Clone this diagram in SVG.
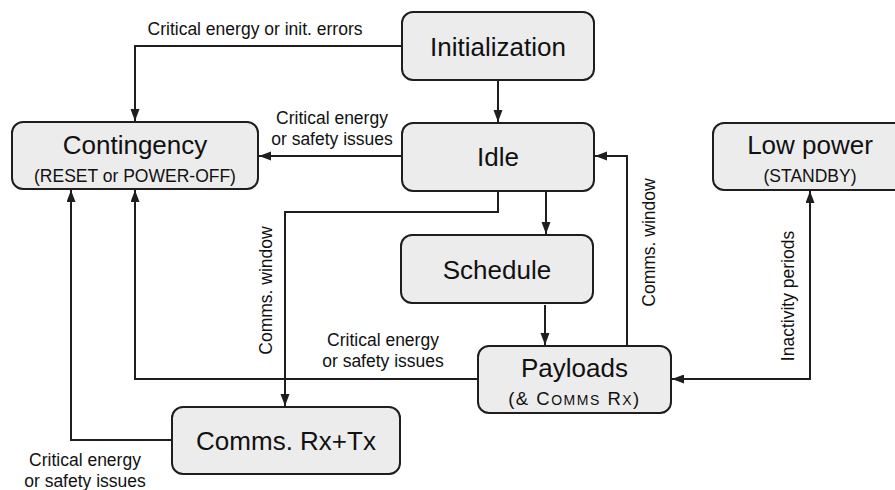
<svg xmlns="http://www.w3.org/2000/svg" width="895" height="490" viewBox="0 0 895 490">
  <style>
    .box { fill: #ececec; stroke: #1e1e1e; stroke-width: 2; }
    .title { font-family: "Liberation Sans", Arial, sans-serif; font-size: 26px; fill: #111; text-anchor: middle; }
    .sub { font-family: "Liberation Sans", Arial, sans-serif; font-size: 17.5px; fill: #111; text-anchor: middle; }
    .sc { font-size: 14px; }
    .lbl { font-family: "Liberation Sans", Arial, sans-serif; font-size: 17.5px; fill: #111; text-anchor: middle; }
    .edge { fill: none; stroke: #1e1e1e; stroke-width: 2; }
  </style>
  <defs>
    <marker id="arrow" markerUnits="userSpaceOnUse" markerWidth="13" markerHeight="10" refX="12" refY="4.5" orient="auto">
      <path d="M0,0 L12,4.5 L0,9 z" fill="#1e1e1e"/>
    </marker>
    <marker id="arrowStart" markerUnits="userSpaceOnUse" markerWidth="13" markerHeight="10" refX="0" refY="4.5" orient="auto">
      <path d="M12,0 L0,4.5 L12,9 z" fill="#1e1e1e"/>
    </marker>
  </defs>
  <rect width="895" height="490" fill="#ffffff"/>

  <g id="connectors">
    <path class="edge" d="M402,46 H135 V121" marker-end="url(#arrow)"/>
    <path class="edge" d="M498,80 V122" marker-end="url(#arrow)"/>
    <path class="edge" d="M402,156 H259" marker-end="url(#arrow)"/>
    <path class="edge" d="M546,191 V234" marker-end="url(#arrow)"/>
    <path class="edge" d="M498,191 V212 H285 V406" marker-end="url(#arrow)"/>
    <path class="edge" d="M545,305 V345" marker-end="url(#arrow)"/>
    <path class="edge" d="M627,346 V156 H595" marker-end="url(#arrow)"/>
    <path class="edge" d="M478,379 H135 V190" marker-end="url(#arrow)"/>
    <path class="edge" d="M172,440 H71 V190" marker-end="url(#arrow)"/>
    <path class="edge" d="M672,379 H810 V191" marker-start="url(#arrowStart)" marker-end="url(#arrow)"/>

    <text class="lbl" x="255" y="35">Critical energy or init. errors</text>
    <text class="lbl" x="332" y="124">Critical energy</text>
    <text class="lbl" x="332" y="145">or safety issues</text>
    <text class="lbl" x="383" y="346">Critical energy</text>
    <text class="lbl" x="383" y="367">or safety issues</text>
    <text class="lbl" x="85" y="466">Critical energy</text>
    <text class="lbl" x="85" y="487">or safety issues</text>
    <text class="lbl" transform="translate(272,290.5) rotate(-90)">Comms. window</text>
    <text class="lbl" transform="translate(655,242.5) rotate(-90)">Comms. window</text>
    <text class="lbl" transform="translate(794,296) rotate(-90)">Inactivity periods</text>
  </g>

  <g id="initialization">
    <rect class="box" x="402" y="12" width="192" height="68" rx="11"/>
    <text class="title" x="498" y="56">Initialization</text>
  </g>

  <g id="contingency">
    <rect class="box" x="12" y="122" width="246" height="67" rx="11"/>
    <text class="title" x="135" y="154">Contingency</text>
    <text class="sub" x="135" y="182">(RESET or POWER-OFF)</text>
  </g>

  <g id="idle">
    <rect class="box" x="402" y="123" width="192" height="68" rx="11"/>
    <text class="title" x="498" y="166">Idle</text>
  </g>

  <g id="low-power">
    <rect class="box" x="713" y="123" width="194" height="67" rx="11"/>
    <text class="title" x="810" y="154">Low power</text>
    <text class="sub" x="810" y="182">(STANDBY)</text>
  </g>

  <g id="schedule">
    <rect class="box" x="401" y="235" width="192" height="68" rx="11"/>
    <text class="title" x="497" y="279">Schedule</text>
  </g>

  <g id="payloads">
    <rect class="box" x="478" y="346" width="193" height="67" rx="11"/>
    <text class="title" x="574.5" y="377">Payloads</text>
    <text class="sub" x="574.5" y="405" style="font-size:18.5px;letter-spacing:1.5px">(&amp; C<tspan class="sc">OMMS</tspan> R<tspan class="sc">X</tspan>)</text>
  </g>

  <g id="comms-rx-tx">
    <rect class="box" x="172" y="407" width="228" height="67" rx="11"/>
    <text class="title" x="286" y="450">Comms. Rx+Tx</text>
  </g>
</svg>
